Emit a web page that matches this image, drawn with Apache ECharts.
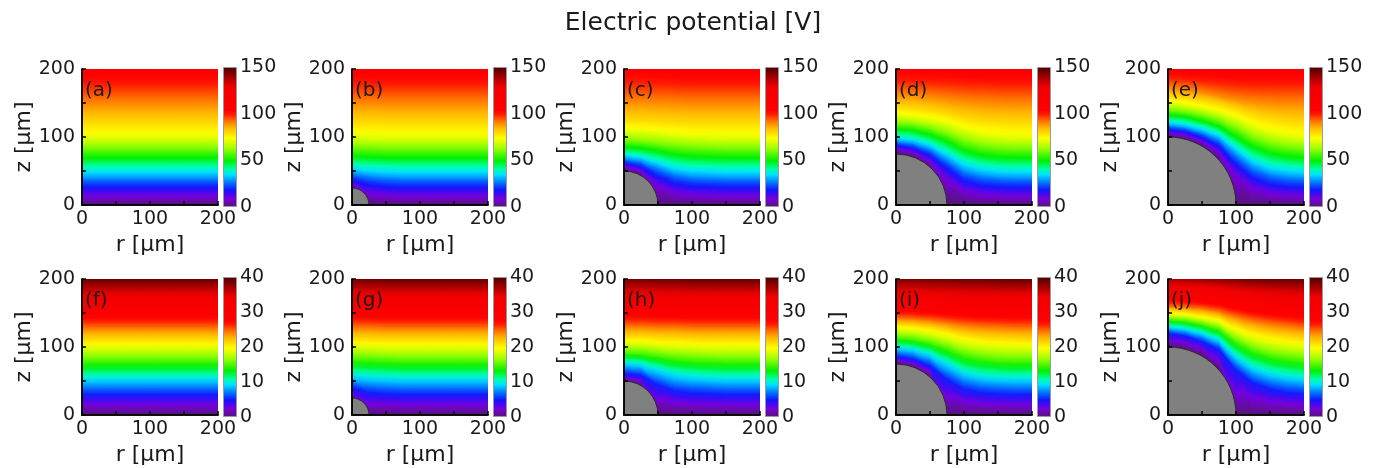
<!DOCTYPE html>
<html><head><meta charset="utf-8">
<script src="https://cdn.jsdelivr.net/npm/echarts@6/dist/echarts.min.js"></script>
<style>html,body{margin:0;padding:0;background:#fff}#c{width:1386px;height:468px}</style>
</head><body><div id="c"></div>
<script>
// ---------------- data ----------------
const chartTitle = 'Electric potential [V]';
const panelLabels = ['(a)','(b)','(c)','(d)','(e)','(f)','(g)','(h)','(i)','(j)'];
const xAxisName = 'r [µm]';
const yAxisName = 'z [µm]';
const axisTickLabels = [0, 100, 200];
const rSamples = [0, 25, 50, 75, 100, 125, 150, 175, 200];
// potential levels [V]; level 0 is the grounded plane / sphere surface
const topLevels = [0, 10, 20, 30, 40, 50, 60, 70, 80, 90, 100, 110, 120];
const bottomLevels = [0, 5, 10, 15, 20, 25, 30, 35, 40, 45];
const topColorbarTicks = [0, 50, 100, 150];
const bottomColorbarTicks = [0, 10, 20, 30, 40];
const sphereRadius = [0, 25, 50, 75, 100, 0, 25, 50, 75, 100];

// iso-potential heights z [µm] at rSamples, one row per level
const isoA = [
  [0,0,0,0,0,0,0,0,0],
  [14,14,14,14,14,14,14,14,14],
  [29,29,29,29,29,29,29,29,29],
  [42,42,42,42,42,42,42,42,42],
  [56,56,56,56,56,56,56,56,56],
  [70,70,70,70,70,70,70,70,70],
  [84,84,84,84,84,84,84,84,84],
  [98,98,98,98,98,98,98,98,98],
  [122,122,122,122,122,122,122,122,122],
  [150,150,150,150,150,150,150,150,150],
  [179,179,179,179,179,179,179,179,179],
  [208,208,208,208,208,208,208,208,208],
  [240,240,240,240,240,240,240,240,240]
];
const isoB = [
  [25,0,0,0,0,0,0,0,0],
  [31,18,15,14,14,14,14,14,14],
  [39,33,30,29,29,29,29,29,29],
  [49,45,43,42,42,42,42,42,42],
  [60,58,57,56,56,56,56,56,56],
  [72,71,70,70,70,70,70,70,70],
  [86,85,84,84,84,84,84,84,84],
  [100,99,98,98,98,98,98,98,98],
  [123,123,122,122,122,122,122,122,122],
  [151,151,150,150,150,150,150,150,150],
  [180,180,179,179,179,179,179,179,179],
  [209,209,208,208,208,208,208,208,208],
  [241,241,240,240,240,240,240,240,240]
];
const isoC = [
  [50,43,0,0,0,0,0,0,0],
  [57,51,30,19,16,15,14,14,14],
  [63,58,45,35,31,30,29,29,29],
  [70,66,57,48,44,43,42,42,42],
  [77,74,68,61,58,57,56,56,56],
  [86,84,80,75,72,71,70,70,70],
  [96,94,91,88,86,85,84,84,84],
  [108,107,105,102,100,99,98,98,98],
  [126,125,124,123,122,122,122,122,122],
  [153,153,152,151,150,150,150,150,150],
  [182,182,181,180,179,179,179,179,179],
  [211,210,210,209,208,208,208,208,208],
  [243,243,242,241,240,240,240,240,240]
];
const isoD = [
  [75,71,56,0,0,0,0,0,0],
  [82,78,65,40,22,17,15,14,14],
  [89,85,75,57,39,32,30,29,29],
  [95,92,84,69,53,46,43,42,42],
  [103,100,93,81,67,60,57,56,56],
  [112,110,104,94,81,74,71,70,70],
  [121,119,114,106,95,88,85,84,84],
  [131,129,125,119,110,103,100,98,98],
  [145,143,140,135,129,125,123,122,122],
  [163,162,160,157,154,152,151,150,150],
  [184,184,183,182,181,180,179,179,179],
  [212,212,211,210,209,209,208,208,208],
  [244,244,243,242,241,241,240,240,240]
];
const isoE = [
  [100,97,87,66,0,0,0,0,0],
  [106,103,94,78,45,25,18,15,14],
  [112,109,101,89,63,43,34,30,29],
  [118,115,108,98,77,58,48,44,42],
  [125,122,116,107,89,72,62,58,56],
  [133,130,124,116,101,86,77,72,70],
  [141,138,133,126,114,100,91,86,84],
  [150,147,142,136,127,115,106,101,98],
  [160,158,154,149,142,134,128,124,122],
  [172,170,166,161,156,153,151,150,150],
  [188,186,184,182,180,179,179,179,179],
  [207,207,207,207,207,207,207,208,208],
  [240,240,240,240,240,240,240,240,240]
];
const isoF = [
  [0,0,0,0,0,0,0,0,0],
  [30,30,30,30,30,30,30,30,30],
  [56,56,56,56,56,56,56,56,56],
  [80,80,80,80,80,80,80,80,80],
  [105,105,105,105,105,105,105,105,105],
  [131,131,131,131,131,131,131,131,131],
  [155,155,155,155,155,155,155,155,155],
  [180,180,180,180,180,180,180,180,180],
  [205,205,205,205,205,205,205,205,205],
  [230,230,230,230,230,230,230,230,230]
];
const isoG = [
  [25,0,0,0,0,0,0,0,0],
  [40,33,31,30,30,30,30,30,30],
  [60,58,57,56,56,56,56,56,56],
  [83,82,81,80,80,80,80,80,80],
  [107,106,105,105,105,105,105,105,105],
  [132,132,131,131,131,131,131,131,131],
  [156,156,155,155,155,155,155,155,155],
  [181,181,180,180,180,180,180,180,180],
  [206,206,205,205,205,205,205,205,205],
  [231,231,230,230,230,230,230,230,230]
];
const isoH = [
  [50,43,0,0,0,0,0,0,0],
  [61,58,44,35,32,31,30,30,30],
  [78,76,69,62,59,57,56,56,56],
  [92,91,88,84,82,81,80,80,80],
  [110,110,108,107,106,105,105,105,105],
  [133,133,132,132,131,131,131,131,131],
  [157,157,156,156,155,155,155,155,155],
  [182,182,181,181,180,180,180,180,180],
  [207,207,206,206,205,205,205,205,205],
  [232,232,231,231,230,230,230,230,230]
];
const isoI = [
  [75,71,56,0,0,0,0,0,0],
  [86,82,72,52,38,33,31,30,30],
  [101,98,91,78,65,59,57,56,56],
  [114,112,107,99,89,84,81,80,80],
  [130,128,125,120,113,109,107,106,105],
  [144,143,141,138,135,133,132,131,131],
  [162,161,160,158,157,156,156,155,155],
  [184,184,183,182,181,181,180,180,180],
  [208,208,207,207,206,206,205,205,205],
  [233,233,232,232,231,231,230,230,230]
];
const isoJ = [
  [100,97,87,66,0,0,0,0,0],
  [120,116,108,96,66,47,38,33,31],
  [131,128,122,112,88,72,64,59,56],
  [141,139,134,127,109,96,88,84,81],
  [150,149,145,140,128,119,113,109,106],
  [161,160,158,154,147,141,137,134,131],
  [176,175,173,171,166,162,159,157,156],
  [193,192,191,189,186,184,182,181,180],
  [212,211,210,209,207,206,205,205,205],
  [235,235,234,233,232,231,231,230,230]
];
const panelIso = [isoA, isoB, isoC, isoD, isoE, isoF, isoG, isoH, isoI, isoJ];

// ---------------- styling ----------------
const FONT = '"DejaVu Sans", Verdana, sans-serif';
const TXT = '#1a1a1a';
const cmapStops = [
  [0.00, [85, 20, 120]],
  [0.06, [120, 0, 220]],
  [0.12, [20, 20, 255]],
  [0.17, [0, 110, 255]],
  [0.23, [0, 225, 255]],
  [0.27, [0, 255, 170]],
  [0.33, [0, 240, 0]],
  [0.42, [160, 255, 0]],
  [0.49, [255, 255, 0]],
  [0.56, [255, 190, 0]],
  [0.61, [255, 120, 0]],
  [0.66, [255, 30, 0]],
  [0.69, [255, 0, 0]],
  [0.86, [240, 0, 0]],
  [0.92, [170, 0, 0]],
  [1.00, [75, 0, 0]]
];
function rgb(c) { return 'rgb(' + c.map(v => Math.round(v)).join(',') + ')'; }
function cmap(t) {
  t = Math.max(0, Math.min(1, t));
  for (let i = 1; i < cmapStops.length; i++) {
    const [o1, c1] = cmapStops[i];
    const [o0, c0] = cmapStops[i - 1];
    if (t <= o1) {
      const f = (t - o0) / (o1 - o0);
      return rgb(c0.map((v, k) => v + (c1[k] - v) * f));
    }
  }
  return rgb(cmapStops[cmapStops.length - 1][1]);
}
const cbGradient = new echarts.graphic.LinearGradient(0, 1, 0, 0,
  cmapStops.map(([o, c]) => ({ offset: o, color: rgb(c) })));

// linear-gradient triangle: points A,B carry value va, point C carries value vc
function gradTriangle(A, B, C, va, vc, vmax) {
  let ux = B[0] - A[0], uy = B[1] - A[1];
  const len = Math.hypot(ux, uy) || 1;
  ux /= len; uy /= len;
  const d = (C[0] - A[0]) * ux + (C[1] - A[1]) * uy;
  const F = [A[0] + d * ux, A[1] + d * uy];
  const stops = [0, 0.25, 0.5, 0.75, 1].map(t => ({ offset: t, color: cmap((va + (vc - va) * t) / vmax) }));
  const g = new echarts.graphic.LinearGradient(F[0], F[1], C[0], C[1], stops, true);
  return { type: 'polygon', shape: { points: [A, B, C] },
    style: { fill: g, stroke: g, lineWidth: 1.5, lineJoin: 'round' } };
}

const colLeft = [82, 352, 624, 896, 1168];
const rowTop = [69, 279];
const PW = 136, PH = 136;

const grid = [], xAxis = [], yAxis = [], series = [], graphic = [];
panelIso.forEach((iso, p) => {
  const col = p % 5, row = Math.floor(p / 5);
  const levels = row === 0 ? topLevels : bottomLevels;
  const cbTicks = row === 0 ? topColorbarTicks : bottomColorbarTicks;
  const vmax = cbTicks[cbTicks.length - 1];
  const left = colLeft[col], top = rowTop[row];
  grid.push({ left: left, top: top, width: PW, height: PH });
  grid.push({ left: left + 141, top: top - 2, width: 14, height: PH + 4 });
  const gi = grid.length - 2, ai = xAxis.length;
  const lineS = { show: true, lineStyle: { color: '#000', width: 1.5 } };
  const tickS = { show: true, inside: true, length: 4, lineStyle: { color: '#000', width: 1.5 } };
  xAxis.push({ type: 'value', gridIndex: gi, min: 0, max: 200, interval: 50, z: 10,
    axisLine: lineS, splitLine: { show: false }, axisTick: tickS,
    axisLabel: { margin: 5, fontSize: 19, fontFamily: FONT, color: TXT,
      formatter: v => axisTickLabels.includes(v) ? String(v) : '' },
    name: xAxisName, nameLocation: 'middle', nameGap: 29,
    nameTextStyle: { fontSize: 22, fontFamily: FONT, color: TXT } });
  xAxis.push({ type: 'value', gridIndex: gi, position: 'top', min: 0, max: 200, z: 10,
    axisLine: lineS, axisTick: { show: false }, axisLabel: { show: false }, splitLine: { show: false } });
  xAxis.push({ type: 'category', gridIndex: gi + 1, data: ['cb'], show: false });
  yAxis.push({ type: 'value', gridIndex: gi, min: 0, max: 200, interval: 50, z: 10,
    axisLine: lineS, splitLine: { show: false }, axisTick: tickS,
    axisLabel: { margin: 7, fontSize: 19, fontFamily: FONT, color: TXT,
      formatter: v => axisTickLabels.includes(v) ? String(v) : '' },
    name: yAxisName, nameLocation: 'middle', nameGap: 43, nameRotate: 90,
    nameTextStyle: { fontSize: 22, fontFamily: FONT, color: TXT } });
  yAxis.push({ type: 'value', gridIndex: gi, position: 'right', min: 0, max: 200, z: 10,
    axisLine: lineS, axisTick: { show: false }, axisLabel: { show: false }, splitLine: { show: false } });
  yAxis.push({ type: 'value', gridIndex: gi + 1, position: 'right', min: 0, max: vmax,
    interval: cbTicks[1] - cbTicks[0],
    axisLine: { show: false }, axisTick: { show: false }, splitLine: { show: false },
    axisLabel: { margin: 3, fontSize: 19, fontFamily: FONT, color: TXT } });

  // field: cells between neighbouring iso-potential lines
  const cells = [];
  for (let k = 0; k < levels.length - 1; k++) {
    for (let i = 0; i < rSamples.length - 1; i++) {
      cells.push([rSamples[i], rSamples[i + 1], iso[k][i], iso[k][i + 1],
        iso[k + 1][i], iso[k + 1][i + 1], levels[k], levels[k + 1]]);
    }
  }
  series.push({ type: 'custom', xAxisIndex: ai, yAxisIndex: ai, silent: true, clip: true, z: 2,
    data: cells,
    renderItem: (params, api) => {
      const r0 = api.value(0), r1 = api.value(1);
      const L0 = api.coord([r0, api.value(2)]), L1 = api.coord([r1, api.value(3)]);
      const U0 = api.coord([r0, api.value(4)]), U1 = api.coord([r1, api.value(5)]);
      const a = api.value(6), b = api.value(7);
      return { type: 'group', children: [
        gradTriangle(L0, L1, U0, a, b, vmax),
        gradTriangle(U0, U1, L1, b, a, vmax)
      ] };
    } });
  if (sphereRadius[p] > 0) {
    series.push({ type: 'custom', xAxisIndex: ai, yAxisIndex: ai, silent: true, clip: true, z: 4,
      data: [[sphereRadius[p]]],
      renderItem: (params, api) => {
        const c0 = api.coord([0, 0]);
        const rr = api.size([api.value(0), 0])[0];
        return { type: 'sector', shape: { cx: c0[0], cy: c0[1], r: rr, r0: 0,
          startAngle: -Math.PI / 2, endAngle: 0, clockwise: true },
          style: { fill: '#808080', stroke: '#2a2a2a', lineWidth: 1 } };
      } });
  }
  series.push({ type: 'bar', xAxisIndex: ai + 2, yAxisIndex: ai + 2, silent: true,
    data: [vmax], barWidth: '100%',
    itemStyle: { color: cbGradient, borderColor: '#9a9a9a', borderWidth: 1 } });
  graphic.push({ type: 'text', left: left + 3, top: top + 12, z: 100,
    style: { text: panelLabels[p], font: '20px ' + FONT, fill: TXT } });
});

const chart = echarts.init(document.getElementById('c'), null, { renderer: 'canvas' });
chart.setOption({
  animation: false,
  backgroundColor: '#ffffff',
  title: { text: chartTitle, left: 'center', top: 6,
    textStyle: { fontSize: 25, fontWeight: 'normal', fontFamily: FONT, color: TXT } },
  grid, xAxis, yAxis, series, graphic
});
</script></body></html>
